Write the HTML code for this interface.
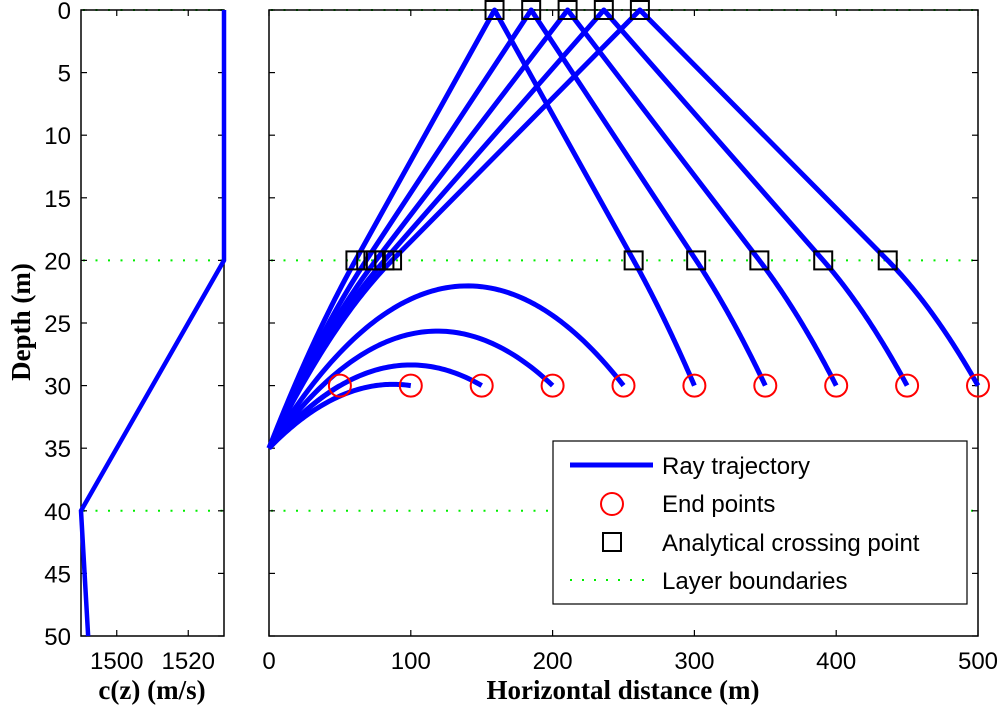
<!DOCTYPE html>
<html><head><meta charset="utf-8"><style>
body{margin:0;background:#fff}
svg{display:block}
text{font-family:"Liberation Sans",sans-serif;font-size:24px;fill:#000}
.lab{font-family:"Liberation Serif",serif;font-weight:bold;font-size:27px}
</style></head><body>
<svg id="fig" width="1000" height="712" viewBox="0 0 1000 712">
<g id="bound"></g>
<g id="left"></g>
<g id="right"></g>
<text class="lab" x="152" y="699" text-anchor="middle">c(z) (m/s)</text>
<text class="lab" x="623" y="699" text-anchor="middle">Horizontal distance (m)</text>
<text class="lab" transform="translate(30,322) rotate(-90)" text-anchor="middle">Depth (m)</text>
<g>
<rect x="553" y="441" width="414" height="163" fill="#fff" stroke="#000" stroke-width="1.2"/>
<line x1="570" y1="465" x2="653" y2="465" stroke="#0000ff" stroke-width="5"/>
<text x="662" y="474">Ray trajectory</text>
<circle cx="612" cy="504" r="11" fill="none" stroke="#ff0000" stroke-width="2"/>
<text x="662" y="512">End points</text>
<rect x="603" y="533" width="18" height="18" fill="none" stroke="#000" stroke-width="2"/>
<text x="662" y="551">Analytical crossing point</text>
<line x1="570" y1="580" x2="653" y2="580" stroke="#00ee00" stroke-width="2" stroke-dasharray="2,10"/>
<text x="662" y="589">Layer boundaries</text>
</g>
</svg>
<script>
const profileDepths=[0,20,40,50];
const profileSpeeds=[1530,1530,1490,1492];
const layerDepths=[0,20,40];
const endXs=[50,100,150,200,250,300,350,400,450,500];
const endDepth=30;
const sourceDepth=35;
const depthTicks=[0,5,10,15,20,25,30,35,40,45,50];
const speedTicks=[1500,1520];
const distTicks=[0,100,200,300,400,500];

const NS="http://www.w3.org/2000/svg";
function mk(p,t,a){const e=document.createElementNS(NS,t);for(const k in a)e.setAttribute(k,a[k]);p.appendChild(e);return e;}
const T=10,B=636;
const yS=z=>T+(z/50)*(B-T);
const LX0=81,LX1=224,sX=c=>LX0+(c-1490)/40*(LX1-LX0);
const RX0=269,RX1=978,dX=x=>RX0+x/500*(RX1-RX0);

const bound=document.getElementById('bound');
layerDepths.forEach(z=>{
  [[LX0,LX1],[RX0,RX1]].forEach(r=>{
    const l=mk(bound,'line',{x1:r[0]+2,x2:r[1],y1:yS(z),y2:yS(z),stroke:'#00ee00','stroke-width':2,'stroke-dasharray':'2,10.5'});
    
    
  });
});

const L=document.getElementById('left');
const lb=mk(L,'rect',{x:LX0,y:T,width:LX1-LX0,height:B-T,fill:'none',stroke:'#000','stroke-width':1.5});


depthTicks.forEach(z=>{
  mk(L,'line',{x1:LX0,x2:LX0+6,y1:yS(z),y2:yS(z),stroke:'#000','stroke-width':1.2});
  mk(L,'line',{x1:LX1,x2:LX1-6,y1:yS(z),y2:yS(z),stroke:'#000','stroke-width':1.2});
  const t=mk(L,'text',{x:71,y:yS(z)+9,'text-anchor':'end'});t.textContent=z;
  
  
});
speedTicks.forEach(c=>{
  mk(L,'line',{x1:sX(c),x2:sX(c),y1:B,y2:B-6,stroke:'#000','stroke-width':1.2});
  mk(L,'line',{x1:sX(c),x2:sX(c),y1:T,y2:T+6,stroke:'#000','stroke-width':1.2});
  const t=mk(L,'text',{x:sX(c),y:669,'text-anchor':'middle'});t.textContent=c;
  
  
});
const prof=mk(L,'polyline',{points:profileDepths.map((z,i)=>sX(profileSpeeds[i])+','+yS(z)).join(' '),fill:'none',stroke:'#0000ff','stroke-width':4.5});



const R=document.getElementById('right');
const rb=mk(R,'rect',{x:RX0,y:T,width:RX1-RX0,height:B-T,fill:'none',stroke:'#000','stroke-width':1.5});


depthTicks.forEach(z=>{
  mk(R,'line',{x1:RX0,x2:RX0+6,y1:yS(z),y2:yS(z),stroke:'#000','stroke-width':1.2});
  mk(R,'line',{x1:RX1,x2:RX1-6,y1:yS(z),y2:yS(z),stroke:'#000','stroke-width':1.2});
});
distTicks.forEach(x=>{
  mk(R,'line',{x1:dX(x),x2:dX(x),y1:B,y2:B-6,stroke:'#000','stroke-width':1.2});
  mk(R,'line',{x1:dX(x),x2:dX(x),y1:T,y2:T+6,stroke:'#000','stroke-width':1.2});
  const t=mk(R,'text',{x:dX(x),y:669,'text-anchor':'middle'});t.textContent=x;
  
  
});

const zTop=profileDepths[1],cTop=profileSpeeds[1];
const g=(profileSpeeds[2]-profileSpeeds[1])/(profileDepths[2]-profileDepths[1]);
const zc=zTop+cTop/(-g);
const hs=zc-sourceDepth,he=zc-endDepth,ht=zc-zTop;
const rays=[],squares=[];
endXs.forEach(xe=>{
  const pts=[];
  let a=(xe*xe+he*he-hs*hs)/(2*xe);
  let Rr=Math.sqrt(a*a+hs*hs);
  if(Rr<=ht){
    for(let i=0;i<=80;i++){const x=xe*i/80;pts.push([x,zc-Math.sqrt(Rr*Rr-(x-a)*(x-a))]);}
  } else {
    const f=a=>{const d1=Math.sqrt(a*a+hs*hs-ht*ht),d2=Math.sqrt(a*a+hs*hs-he*he);return a-2*d1+2*zTop*ht/d1+d2;};
    let lo=Math.sqrt(ht*ht-hs*hs)+1e-6,hi=3000;
    for(let k=0;k<100;k++){const m=(lo+hi)/2;if(f(m)>xe)lo=m;else hi=m;}
    a=(lo+hi)/2;Rr=Math.sqrt(a*a+hs*hs);
    const d1=Math.sqrt(Rr*Rr-ht*ht),d2=Math.sqrt(Rr*Rr-he*he);
    const x1=a-d1,xs=x1+zTop*ht/d1,x2=xs+zTop*ht/d1,a2=x2-d1,x3=a2+d2;
    for(let i=0;i<=60;i++){const x=x1*i/60;pts.push([x,zc-Math.sqrt(Math.max(0,Rr*Rr-(x-a)*(x-a)))]);}
    pts.push([xs,0]);
    for(let i=0;i<=60;i++){const x=x2+(x3-x2)*i/60;pts.push([x,zc-Math.sqrt(Math.max(0,Rr*Rr-(x-a2)*(x-a2)))]);}
    squares.push([x1,zTop],[xs,0],[x2,zTop]);
  }
  rays.push(pts);
});
rays.forEach(p=>{
  const l=mk(R,'polyline',{points:p.map(q=>dX(q[0])+','+yS(q[1])).join(' '),fill:'none',stroke:'#0000ff','stroke-width':5,'stroke-linejoin':'round'});
  
  
});
squares.forEach(s=>{
  const r=mk(R,'rect',{x:dX(s[0])-9,y:yS(s[1])-9,width:18,height:18,fill:'none',stroke:'#000','stroke-width':2});
  
  
});
endXs.forEach(x=>{
  const c=mk(R,'circle',{cx:dX(x),cy:yS(endDepth),r:11,fill:'none',stroke:'#ff0000','stroke-width':2});
  
  
});
</script>
</body></html>
